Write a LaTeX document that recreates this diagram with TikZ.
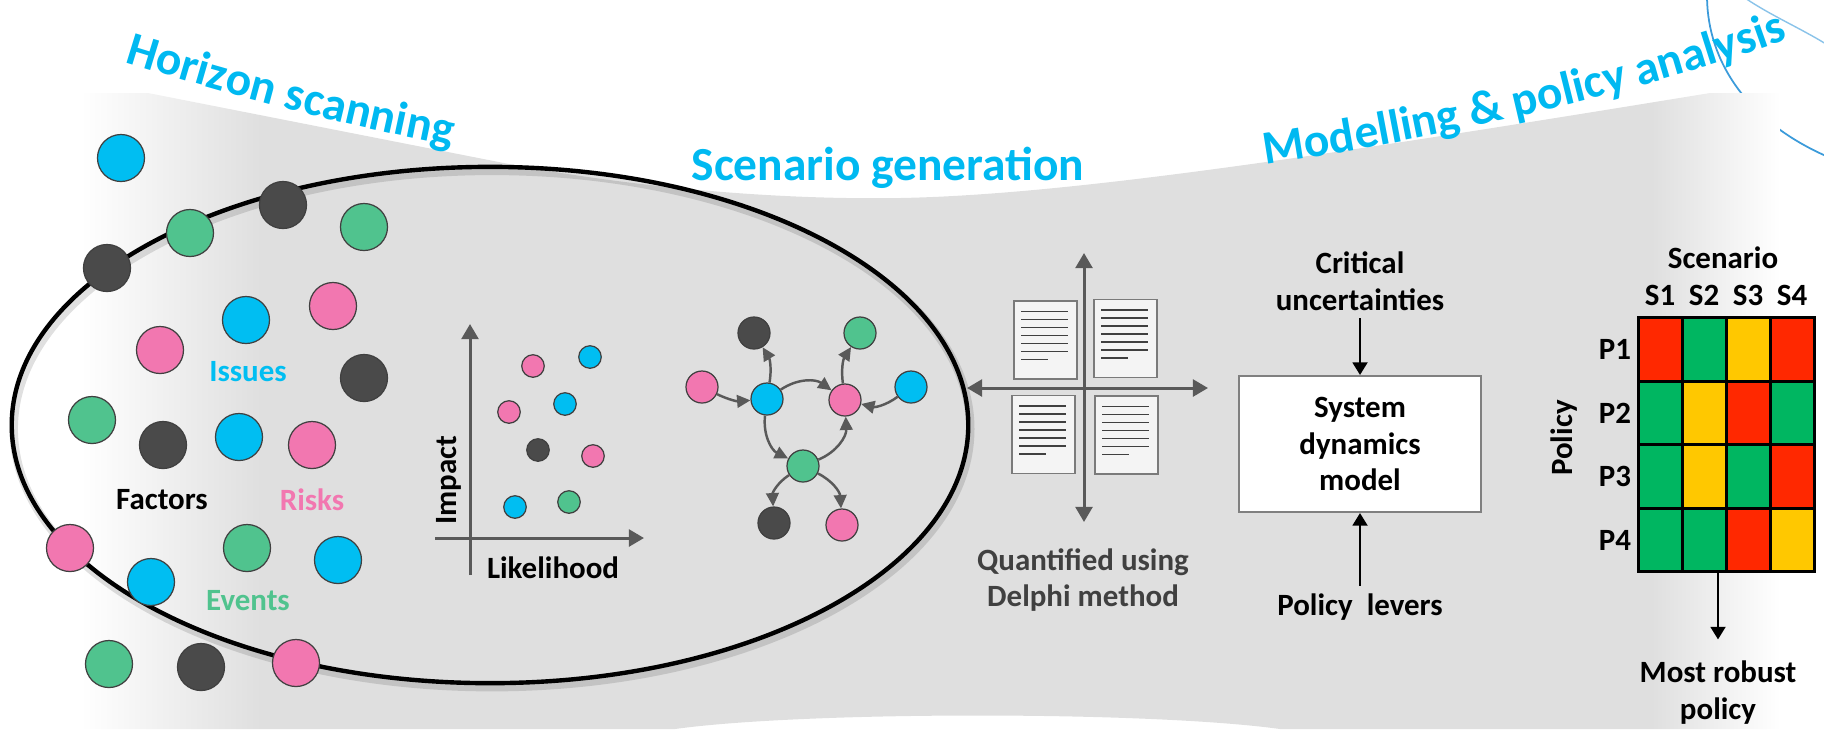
\documentclass[tikz,border=0pt]{standalone}
\usepackage{fontspec}
\setmainfont{Carlito}
\usetikzlibrary{arrows.meta,calc,decorations.text}

\definecolor{bandgrey}{HTML}{DFDFDF}
\definecolor{issueblue}{HTML}{00BEF2}
\definecolor{riskpink}{HTML}{F277B0}
\definecolor{eventgreen}{HTML}{50C38E}
\definecolor{factordark}{HTML}{4A4A4A}
\definecolor{axisgrey}{HTML}{595959}
\definecolor{quantgrey}{HTML}{404040}
\definecolor{titleblue}{HTML}{00B9F1}
\definecolor{docfill}{HTML}{F4F4F4}
\definecolor{cellred}{HTML}{FF2800}
\definecolor{cellgreen}{HTML}{00B661}
\definecolor{cellyellow}{HTML}{FFC800}
\definecolor{arcblue}{HTML}{3C9BDA}

\pgfdeclarehorizontalshading{bandshade}{100bp}{color(0bp)=(white); color(25bp)=(white); color(30.3bp)=(bandgrey); color(71.2bp)=(bandgrey); color(75bp)=(white); color(100bp)=(white)}

\newcommand{\bandtitle}{\bfseries\fontsize{13.5}{16}\selectfont}

\tikzset{
  dot/.style={circle,draw=black!75,line width=0.35pt,inner sep=0pt,minimum size=0.47cm},
  smalldot/.style={dot,minimum size=0.225cm},
  netdot/.style={dot,minimum size=0.32cm},
  lbl/.style={font=\bfseries\fontsize{8.8}{10.5}\selectfont,align=center,inner sep=2pt},
  axis/.style={draw=axisgrey,line width=0.85pt,-{Triangle[length=4.3pt,width=4.8pt]}},
  qaxis/.style={axis,{Triangle[length=4.3pt,width=4.8pt]}-{Triangle[length=4.3pt,width=4.8pt]}},
  netarrow/.style={draw=axisgrey,line width=0.7pt,-{Triangle[length=3.8pt,width=3.6pt]}},
  sdarrow/.style={draw=black,line width=0.75pt,-{Triangle[length=3.6pt,width=4.2pt]}},
  doc/.style={rectangle,draw=axisgrey!80,fill=docfill,line width=0.4pt,minimum width=0.63cm,minimum height=0.78cm,inner sep=0pt},
  docline/.style={draw=quantgrey,line width=0.45pt},
  sdbox/.style={lbl,rectangle,draw=black!50,fill=white,line width=0.55pt,minimum width=2.42cm,minimum height=1.36cm},
  cell/.style={rectangle,draw=black,line width=0.85pt,minimum width=0.44cm,minimum height=0.636cm,inner sep=0pt},
  bandtext/.style={decorate,decoration={text along path,text align=center,text color=titleblue,text={#1}}}
}

\begin{document}
\begin{tikzpicture}[x=0.01cm,y=-0.01cm]
\useasboundingbox (0,0) rectangle (1824,729);

% globe arcs, top right
\draw[arcblue,line width=0.5pt] (1707,-2) .. controls (1708,60) and (1745,120) .. (1826,156);
\draw[arcblue!60,line width=0.4pt] (1745,-2) .. controls (1770,15) and (1800,28) .. (1826,44);

% grey band
\shade[shading=bandshade] (81,93) -- (148,93) -- (514,165) .. controls (640,188) and (780,200) .. (900,198)
  .. controls (1060,195) and (1300,160) .. (1710,93) -- (1780,93) -- (1780,729) -- (1280,729)
  .. controls (1150,711) and (805,711) .. (675,729) -- (81,729) -- cycle;

% titles
\path[bandtext={|\bandtitle|Horizon scanning}] (118,60) .. controls (230,95) and (340,125) .. (458,147);
\node[font=\bandtitle,text=titleblue,anchor=base,inner sep=0pt] (scgen) at (888,180) {Scenario generation};
\path[bandtext={|\bandtitle|Modelling {\&} policy analysis}] (1258,166) .. controls (1420,142) and (1640,95) .. (1795,36);

% scenario ellipse
\draw[black,opacity=0.12,line width=2.4pt] (492,429) ellipse [x radius=4.78cm,y radius=2.58cm];
\draw[line width=1.25pt] (490,425) ellipse [x radius=4.78cm,y radius=2.58cm];

% horizon scanning dots
\node[dot,fill=issueblue] (h1) at (121,158) {};
\node[dot,fill=eventgreen] (h2) at (190,233) {};
\node[dot,fill=factordark] (h3) at (283,205) {};
\node[dot,fill=eventgreen] (h4) at (364,227) {};
\node[dot,fill=factordark] (h5) at (107,268) {};
\node[dot,fill=riskpink] (h6) at (333,306) {};
\node[dot,fill=issueblue] (h7) at (246,320) {};
\node[dot,fill=riskpink] (h8) at (160,350) {};
\node[dot,fill=factordark] (h9) at (364,378) {};
\node[dot,fill=eventgreen] (h10) at (92,420) {};
\node[dot,fill=factordark] (h11) at (163,445) {};
\node[dot,fill=issueblue] (h12) at (239,437) {};
\node[dot,fill=riskpink] (h13) at (312,445) {};
\node[dot,fill=riskpink] (h14) at (70,548) {};
\node[dot,fill=eventgreen] (h15) at (247,548) {};
\node[dot,fill=issueblue] (h16) at (338,560) {};
\node[dot,fill=issueblue] (h17) at (151,582) {};
\node[dot,fill=eventgreen] (h18) at (109,664) {};
\node[dot,fill=factordark] (h19) at (201,667) {};
\node[dot,fill=riskpink] (h20) at (296,663) {};

\node[lbl,text=issueblue] (issues) at (248,372) {Issues};
\node[lbl] (factors) at (162,500) {Factors};
\node[lbl,text=riskpink] (risks) at (312,500) {Risks};
\node[lbl,text=eventgreen] (events) at (248,601) {Events};

% impact / likelihood plot
\coordinate (yb) at (470,575);
\coordinate (yt) at (470,324);
\coordinate (xl) at (435,538);
\coordinate (xr) at (644,538);
\draw[axis] (yb) -- (yt);
\draw[axis] (xl) -- (xr);
\node[lbl,rotate=90] (impact) at (449,480) {Impact};
\node[lbl] (likely) at (553,568) {Likelihood};
\node[smalldot,fill=riskpink] (p1) at (533,366) {};
\node[smalldot,fill=issueblue] (p2) at (590,357) {};
\node[smalldot,fill=riskpink] (p3) at (509,412) {};
\node[smalldot,fill=issueblue] (p4) at (565,404) {};
\node[smalldot,fill=factordark] (p5) at (538,450) {};
\node[smalldot,fill=riskpink] (p6) at (593,456) {};
\node[smalldot,fill=issueblue] (p7) at (515,507) {};
\node[smalldot,fill=eventgreen] (p8) at (569,502) {};

% influence network
\node[netdot,fill=riskpink] (nL) at (702,387) {};
\node[netdot,fill=issueblue] (nB) at (767,399) {};
\node[netdot,fill=factordark] (nD) at (754,333) {};
\node[netdot,fill=eventgreen] (nG) at (860,333) {};
\node[netdot,fill=riskpink] (nR) at (845,400) {};
\node[netdot,fill=issueblue] (nF) at (911,387) {};
\node[netdot,fill=eventgreen] (nC) at (803,466) {};
\node[netdot,fill=factordark] (nX) at (774,523) {};
\node[netdot,fill=riskpink] (nP) at (842,525) {};
\draw[netarrow] (nL) to[bend right=15] (nB);
\draw[netarrow] (nB) to[bend right=20] (nD);
\draw[netarrow] (nB) to[bend left=35] (nR);
\draw[netarrow] (nR) to[bend left=20] (nG);
\draw[netarrow] (nF) to[bend left=25] (nR);
\draw[netarrow] (nB) to[bend right=35] (nC);
\draw[netarrow] (nC) to[bend right=35] (nR);
\draw[netarrow] (nC) to[bend right=30] (nX);
\draw[netarrow] (nC) to[bend left=30] (nP);

% scenario quadrants
\coordinate (qt) at (1084,253);
\coordinate (qb) at (1084,522);
\coordinate (ql) at (967,388);
\coordinate (qr) at (1208,388);
\draw[qaxis] (qb) -- (qt);
\draw[qaxis] (ql) -- (qr);
\node[doc] (dtl) at (1045.5,340) {};
\node[doc] (dtr) at (1125.5,338.5) {};
\node[doc] (dbl) at (1043.5,434.5) {};
\node[doc] (dbr) at (1126.5,435) {};
\foreach \d in {dtl,dtr,dbl,dbr}{
  \foreach \k in {0,...,5}
    \draw[docline] ($(\d.north west)+(8,11+8*\k)$) -- ++(47,0);
  \draw[docline] ($(\d.north west)+(8,59)$) -- ++(27,0);
}
\node[lbl,text=quantgrey] (delphi) at (1083,580) {Quantified using\\Delphi method};

% system dynamics model
\node[lbl] (crit) at (1360,281) {Critical\\uncertainties};
\node[sdbox] (sdm) at (1360,444) {System\\dynamics\\model};
\node[lbl] (lev) at (1360,607) {Policy\ \ levers};
\draw[sdarrow] (crit) -- (sdm);
\draw[sdarrow] (lev.north -| sdm.south) -- (sdm.south);

% policy / scenario matrix
\foreach \row [count=\r] in {{cellred,cellgreen,cellyellow,cellred},{cellgreen,cellyellow,cellred,cellgreen},{cellgreen,cellyellow,cellgreen,cellred},{cellgreen,cellgreen,cellred,cellyellow}}
  \foreach \col [count=\c] in \row
    \node[cell,fill=\col] (c\r\c) at ({1616+44*\c},{285.7+63.6*\r}) {};
\foreach \c in {1,...,4}
  \node[lbl] (s\c) at ({1616+44*\c},295) {S\c};
\foreach \r in {1,...,4}
  \node[lbl] (pl\r) at (1615,{285.7+63.6*\r}) {P\r};
\node[lbl] (scen) at (1723,258) {Scenario};
\node[lbl,rotate=90] (pol) at (1564,438) {Policy};
\node[lbl] (robust) at (1718,693) {Most robust\\policy};
\draw[sdarrow,shorten >=4pt] (robust.north |- c42.south) -- (robust.north);
\end{tikzpicture}
\end{document}
